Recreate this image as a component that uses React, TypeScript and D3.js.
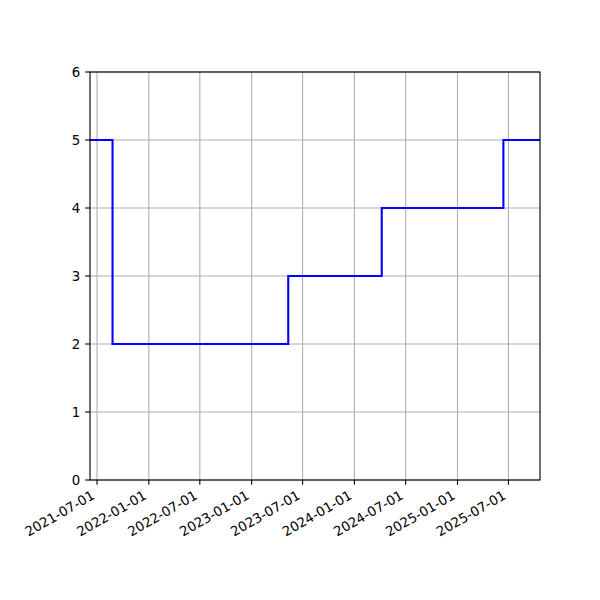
import React, { useLayoutEffect } from "react";
import * as d3 from "d3";

const dates = ["2021-06-06", "2021-08-25", "2023-05-11", "2024-04-07", "2025-06-13", "2025-10-21"];
const values = [5, 2, 3, 4, 5, 5];
const xTickLabels = ["2021-07-01", "2022-01-01", "2022-07-01", "2023-01-01", "2023-07-01", "2024-01-01", "2024-07-01", "2025-01-01", "2025-07-01"];
const yTicks = [0, 1, 2, 3, 4, 5, 6];
const xLimits = ["2021-06-06", "2025-10-21"];

const W = 600, H = 600;
const L = 90, R = 540, T = 72, B = 480;
const FONT = "DejaVu Sans, sans-serif";
const FS = 13.33;

export default function App() {
  useLayoutEffect(() => {
    document.body.style.margin = "0";
  }, []);
  const parse = d3.utcParse("%Y-%m-%d");
  const x = d3.scaleUtc().domain(xLimits.map((d) => parse(d) as Date)).range([L, R]);
  const y = d3.scaleLinear().domain([0, 6]).range([B, T]);
  const pts = dates.map((d, i) => ({ t: parse(d) as Date, v: values[i] }));
  const line = d3
    .line<{ t: Date; v: number }>()
    .x((d) => x(d.t))
    .y((d) => y(d.v))
    .curve(d3.curveStepAfter);
  const tick = 4.86;
  const pad = 4.86;
  return (
    <svg width={W} height={H} style={{ display: "block", background: "#fff" }} fontFamily={FONT}>
      <defs>
        <clipPath id="plot">
          <rect x={L} y={T} width={R - L} height={B - T} />
        </clipPath>
      </defs>
      <rect x={0} y={0} width={W} height={H} fill="#fff" />
      {xTickLabels.map((s) => {
        const px = x(parse(s) as Date);
        return <line key={"gx" + s} x1={px} x2={px} y1={T} y2={B} stroke="#b0b0b0" strokeWidth={1.11} />;
      })}
      {yTicks.map((v) => (
        <line key={"gy" + v} x1={L} x2={R} y1={y(v)} y2={y(v)} stroke="#b0b0b0" strokeWidth={1.11} />
      ))}
      <path d={line(pts) || ""} fill="none" stroke="#0000ff" strokeWidth={2.08} clipPath="url(#plot)" strokeLinejoin="miter" />
      <rect x={L} y={T} width={R - L} height={B - T} fill="none" stroke="#000" strokeWidth={1.11} />
      {xTickLabels.map((s) => {
        const px = x(parse(s) as Date);
        const ax = px - 1.5;
        const ay = B + tick + pad + 8.4;
        return (
          <g key={"xt" + s}>
            <line x1={px} x2={px} y1={B} y2={B + tick} stroke="#000" strokeWidth={1.11} />
            <text x={ax} y={ay} fontSize={FS} textAnchor="end" transform={`rotate(-30, ${ax}, ${ay})`} fill="#000">
              {s}
            </text>
          </g>
        );
      })}
      {yTicks.map((v) => (
        <g key={"yt" + v}>
          <line x1={L - tick} x2={L} y1={y(v)} y2={y(v)} stroke="#000" strokeWidth={1.11} />
          <text x={L - tick - pad} y={y(v)} dy="0.36em" fontSize={FS} textAnchor="end" fill="#000">
            {v}
          </text>
        </g>
      ))}
    </svg>
  );
}
